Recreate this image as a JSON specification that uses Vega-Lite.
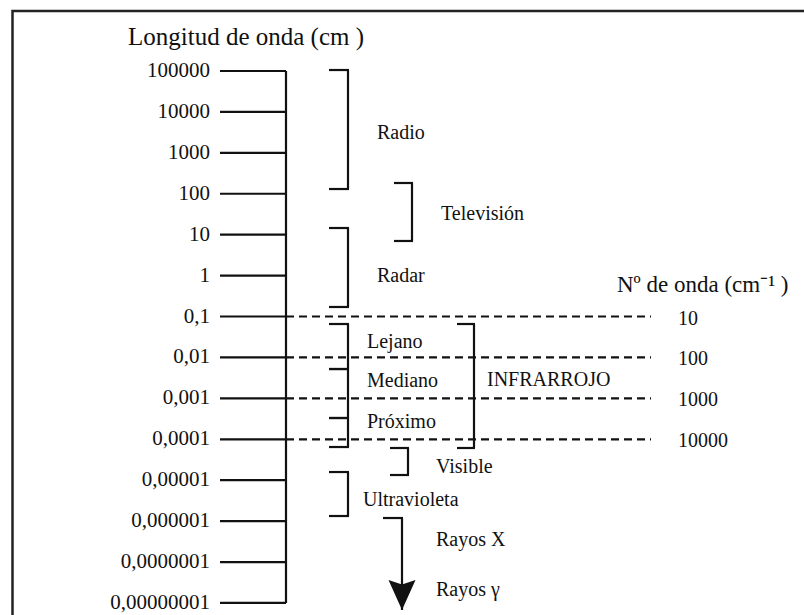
{
  "$schema": "https://vega.github.io/schema/vega-lite/v6.json",
  "width": 804,
  "height": 615,
  "autosize": {"type": "none"},
  "padding": 0,
  "background": "white",
  "config": {
    "view": {"stroke": null},
    "text": {"font": "Liberation Serif", "fontSize": 20, "color": "#111", "baseline": "middle"},
    "rule": {"color": "#111", "strokeWidth": 2.2}
  },
  "datasets": {
    "scale": [
      {"e": 5, "label": "100000"},
      {"e": 4, "label": "10000"},
      {"e": 3, "label": "1000"},
      {"e": 2, "label": "100"},
      {"e": 1, "label": "10"},
      {"e": 0, "label": "1"},
      {"e": -1, "label": "0,1"},
      {"e": -2, "label": "0,01"},
      {"e": -3, "label": "0,001"},
      {"e": -4, "label": "0,0001"},
      {"e": -5, "label": "0,00001"},
      {"e": -6, "label": "0,000001"},
      {"e": -7, "label": "0,0000001"},
      {"e": -8, "label": "0,00000001"}
    ],
    "wavenumber": [
      {"e": -1, "k": "10"},
      {"e": -2, "k": "100"},
      {"e": -3, "k": "1000"},
      {"e": -4, "k": "10000"}
    ],
    "bands": [
      {"band": "Radio", "top": 5.024, "bottom": 2.116},
      {"band": "Televisión", "top": 2.263, "bottom": 0.846},
      {"band": "Radar", "top": 1.163, "bottom": -0.767},
      {"band": "Lejano", "top": -1.183, "bottom": -2.283},
      {"band": "Mediano", "top": -2.283, "bottom": -3.48},
      {"band": "Próximo", "top": -3.48, "bottom": -4.189},
      {"band": "INFRARROJO", "top": -1.183, "bottom": -4.213},
      {"band": "Visible", "top": -4.213, "bottom": -4.873},
      {"band": "Ultravioleta", "top": -4.8, "bottom": -5.875},
      {"band": "Rayos", "top": -5.924, "bottom": -8.172}
    ],
    "labels": [
      {"name": "Longitud de onda (cm )", "e": 5.831},
      {"name": "Nº de onda (cm⁻¹ )", "e": -0.23},
      {"name": "Radio", "e": 3.485},
      {"name": "Televisión", "e": 1.505},
      {"name": "Radar", "e": 0.0},
      {"name": "Lejano", "e": -1.62},
      {"name": "Mediano", "e": -2.58},
      {"name": "Próximo", "e": -3.58},
      {"name": "INFRARROJO", "e": -2.55},
      {"name": "Visible", "e": -4.68},
      {"name": "Ultravioleta", "e": -5.48},
      {"name": "Rayos X", "e": -6.46},
      {"name": "Rayos γ", "e": -7.68}
    ]
  },
  "layer": [
    {
      "data": {"values": [{"item": "frame"}]},
      "mark": {"type": "rect", "fillOpacity": 0, "stroke": "#222", "strokeWidth": 2.5},
      "encoding": {
        "x": {"datum": 12.5, "type": "quantitative", "scale": {"domain": [0, 804], "nice": false, "zero": false}, "axis": null},
        "x2": {"datum": 830},
        "y": {"datum": 6.466, "type": "quantitative", "scale": {"domain": [-8.294, 6.735], "nice": false, "zero": false}, "axis": null},
        "y2": {"datum": -9.5}
      }
    },
    {
      "data": {"name": "scale"},
      "mark": "rule",
      "encoding": {
        "x": {"datum": 220, "type": "quantitative"},
        "x2": {"datum": 286},
        "y": {"field": "e", "type": "quantitative"}
      }
    },
    {
      "data": {"name": "scale"},
      "mark": "rule",
      "encoding": {
        "x": {"datum": 286, "type": "quantitative"},
        "y": {"aggregate": "max", "field": "e", "type": "quantitative"},
        "y2": {"aggregate": "min", "field": "e"}
      }
    },
    {
      "data": {"name": "scale"},
      "mark": {"type": "text", "align": "right", "fontSize": 21},
      "encoding": {
        "x": {"datum": 210, "type": "quantitative"},
        "y": {"field": "e", "type": "quantitative"},
        "text": {"field": "label"}
      }
    },
    {
      "data": {"name": "wavenumber"},
      "mark": {"type": "rule", "strokeDash": [8, 5]},
      "encoding": {
        "x": {"datum": 286, "type": "quantitative"},
        "x2": {"datum": 651},
        "y": {"field": "e", "type": "quantitative"}
      }
    },
    {
      "data": {"name": "wavenumber"},
      "mark": {"type": "text", "align": "left", "dy": 2, "fontSize": 20},
      "encoding": {
        "x": {"datum": 678, "type": "quantitative"},
        "y": {"field": "e", "type": "quantitative"},
        "text": {"field": "k"}
      }
    },
    {
      "data": {"name": "bands"},
      "transform": [{"filter": {"field": "band", "oneOf": ["Radio", "Radar", "Lejano", "Mediano", "Próximo", "Ultravioleta"]}}],
      "mark": "rule",
      "encoding": {
        "x": {"datum": 348, "type": "quantitative"},
        "y": {"field": "top", "type": "quantitative"},
        "y2": {"field": "bottom"}
      }
    },
    {
      "data": {"name": "bands"},
      "transform": [
        {"filter": {"field": "band", "oneOf": ["Radio", "Radar", "Lejano", "Mediano", "Próximo", "Ultravioleta"]}},
        {"fold": ["top", "bottom"], "as": ["end", "e"]}
      ],
      "mark": "rule",
      "encoding": {
        "x": {"datum": 329, "type": "quantitative"},
        "x2": {"datum": 349},
        "y": {"field": "e", "type": "quantitative"}
      }
    },
    {
      "data": {"name": "bands"},
      "transform": [{"filter": {"field": "band", "equal": "Televisión"}}],
      "mark": "rule",
      "encoding": {
        "x": {"datum": 412, "type": "quantitative"},
        "y": {"field": "top", "type": "quantitative"},
        "y2": {"field": "bottom"}
      }
    },
    {
      "data": {"name": "bands"},
      "transform": [
        {"filter": {"field": "band", "equal": "Televisión"}},
        {"fold": ["top", "bottom"], "as": ["end", "e"]}
      ],
      "mark": "rule",
      "encoding": {
        "x": {"datum": 394, "type": "quantitative"},
        "x2": {"datum": 413},
        "y": {"field": "e", "type": "quantitative"}
      }
    },
    {
      "data": {"name": "bands"},
      "transform": [{"filter": {"field": "band", "equal": "Visible"}}],
      "mark": "rule",
      "encoding": {
        "x": {"datum": 408, "type": "quantitative"},
        "y": {"field": "top", "type": "quantitative"},
        "y2": {"field": "bottom"}
      }
    },
    {
      "data": {"name": "bands"},
      "transform": [
        {"filter": {"field": "band", "equal": "Visible"}},
        {"fold": ["top", "bottom"], "as": ["end", "e"]}
      ],
      "mark": "rule",
      "encoding": {
        "x": {"datum": 390, "type": "quantitative"},
        "x2": {"datum": 409},
        "y": {"field": "e", "type": "quantitative"}
      }
    },
    {
      "data": {"name": "bands"},
      "transform": [{"filter": {"field": "band", "equal": "INFRARROJO"}}],
      "mark": "rule",
      "encoding": {
        "x": {"datum": 474, "type": "quantitative"},
        "y": {"field": "top", "type": "quantitative"},
        "y2": {"field": "bottom"}
      }
    },
    {
      "data": {"name": "bands"},
      "transform": [
        {"filter": {"field": "band", "equal": "INFRARROJO"}},
        {"fold": ["top", "bottom"], "as": ["end", "e"]}
      ],
      "mark": "rule",
      "encoding": {
        "x": {"datum": 457, "type": "quantitative"},
        "x2": {"datum": 475},
        "y": {"field": "e", "type": "quantitative"}
      }
    },
    {
      "data": {"name": "bands"},
      "transform": [{"filter": {"field": "band", "equal": "Rayos"}}],
      "mark": "rule",
      "encoding": {
        "x": {"datum": 383, "type": "quantitative"},
        "x2": {"datum": 403},
        "y": {"field": "top", "type": "quantitative"}
      }
    },
    {
      "data": {"name": "bands"},
      "transform": [{"filter": {"field": "band", "equal": "Rayos"}}],
      "mark": "rule",
      "encoding": {
        "x": {"datum": 402, "type": "quantitative"},
        "y": {"field": "top", "type": "quantitative"},
        "y2": {"field": "bottom"}
      }
    },
    {
      "data": {"name": "bands"},
      "transform": [{"filter": {"field": "band", "equal": "Rayos"}}],
      "mark": {"type": "point", "shape": "M-0.9,-2L0,-1.7L0.9,-2L0,0Z", "size": 900, "filled": true, "color": "#111", "opacity": 1},
      "encoding": {
        "x": {"datum": 402, "type": "quantitative"},
        "y": {"field": "bottom", "type": "quantitative"}
      }
    },
    {
      "data": {"name": "labels"},
      "transform": [{"filter": {"field": "name", "equal": "Longitud de onda (cm )"}}],
      "mark": {"type": "text", "align": "left", "fontSize": 25},
      "encoding": {
        "x": {"datum": 128, "type": "quantitative"},
        "y": {"field": "e", "type": "quantitative"},
        "text": {"field": "name"}
      }
    },
    {
      "data": {"name": "labels"},
      "transform": [{"filter": {"field": "name", "equal": "Nº de onda (cm⁻¹ )"}}],
      "mark": {"type": "text", "align": "left", "fontSize": 23},
      "encoding": {
        "x": {"datum": 617, "type": "quantitative"},
        "y": {"field": "e", "type": "quantitative"},
        "text": {"field": "name"}
      }
    },
    {
      "data": {"name": "labels"},
      "transform": [{"filter": {"field": "name", "oneOf": ["Radio", "Radar"]}}],
      "mark": {"type": "text", "align": "left"},
      "encoding": {
        "x": {"datum": 377, "type": "quantitative"},
        "y": {"field": "e", "type": "quantitative"},
        "text": {"field": "name"}
      }
    },
    {
      "data": {"name": "labels"},
      "transform": [{"filter": {"field": "name", "oneOf": ["Lejano", "Mediano", "Próximo"]}}],
      "mark": {"type": "text", "align": "left"},
      "encoding": {
        "x": {"datum": 367, "type": "quantitative"},
        "y": {"field": "e", "type": "quantitative"},
        "text": {"field": "name"}
      }
    },
    {
      "data": {"name": "labels"},
      "transform": [{"filter": {"field": "name", "equal": "Ultravioleta"}}],
      "mark": {"type": "text", "align": "left"},
      "encoding": {
        "x": {"datum": 363, "type": "quantitative"},
        "y": {"field": "e", "type": "quantitative"},
        "text": {"field": "name"}
      }
    },
    {
      "data": {"name": "labels"},
      "transform": [{"filter": {"field": "name", "equal": "Televisión"}}],
      "mark": {"type": "text", "align": "left"},
      "encoding": {
        "x": {"datum": 441, "type": "quantitative"},
        "y": {"field": "e", "type": "quantitative"},
        "text": {"field": "name"}
      }
    },
    {
      "data": {"name": "labels"},
      "transform": [{"filter": {"field": "name", "oneOf": ["Visible", "Rayos X", "Rayos γ"]}}],
      "mark": {"type": "text", "align": "left"},
      "encoding": {
        "x": {"datum": 436, "type": "quantitative"},
        "y": {"field": "e", "type": "quantitative"},
        "text": {"field": "name"}
      }
    },
    {
      "data": {"name": "labels"},
      "transform": [{"filter": {"field": "name", "equal": "INFRARROJO"}}],
      "mark": {"type": "text", "align": "left"},
      "encoding": {
        "x": {"datum": 487, "type": "quantitative"},
        "y": {"field": "e", "type": "quantitative"},
        "text": {"field": "name"}
      }
    }
  ]
}
